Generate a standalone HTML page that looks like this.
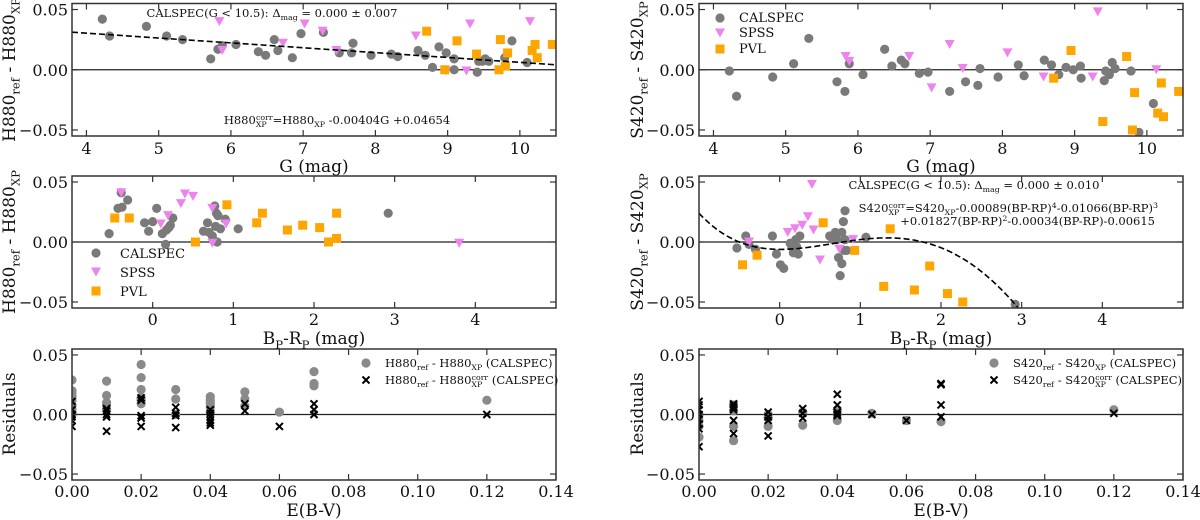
<!DOCTYPE html>
<html><head><meta charset="utf-8"><style>
html,body{margin:0;padding:0;background:#fff;}
svg{display:block;font-family:"DejaVu Serif","Liberation Serif",serif;}
</style></head><body>
<svg id="fig" width="1200" height="520" viewBox="0 0 1200 520" xmlns="http://www.w3.org/2000/svg"></svg>
<script>
// ---------- DATA ----------
const tlCalG=[4.22,4.32,4.83,5.11,5.33,5.72,5.82,5.88,6.07,6.38,6.48,6.60,6.65,6.85,6.97,7.28,7.50,7.67,7.69,7.94,8.22,8.31,8.59,8.69,8.79,8.88,8.98,9.09,9.09,9.41,9.43,9.48,9.52,9.57,9.79,9.89,10.10];
const tlCalD=[0.042,0.028,0.036,0.028,0.025,0.009,0.017,0.020,0.021,0.015,0.012,0.025,0.016,0.010,0.030,0.031,0.014,0.014,0.022,0.012,0.013,0.011,0.016,0.012,0.002,0.019,0.014,0.009,0.000,-0.002,0.007,0.007,0.009,0.007,0.010,0.024,0.006];
const tlSpsG=[5.84,5.88,6.72,7.02,7.27,7.46,8.56,8.98,9.26,9.31,10.14];
const tlSpsD=[0.040,0.016,0.022,0.038,0.032,0.016,0.028,-0.001,-0.001,0.038,0.040];
const tlPvlG=[8.71,8.96,9.13,9.40,9.71,9.73,9.80,9.83,10.17,10.21,10.24,10.45];
const tlPvlD=[0.032,0.000,0.024,0.013,0.000,0.025,0.003,0.014,0.016,0.021,0.010,0.021];
const h880Slope=-0.00404, h880Icpt=0.04654;
const mlCalC=[-0.54,-0.43,-0.38,-0.39,-0.31,-0.10,-0.05,0.00,0.05,0.12,0.16,0.17,0.20,0.22,0.25,0.63,0.68,0.70,0.74,0.77,0.78,0.79,0.80,0.81,0.84,0.90,1.06,2.92];
const mlCalD=[0.007,0.028,0.029,0.041,0.035,0.016,0.009,0.017,0.028,0.007,-0.002,0.010,0.012,0.014,0.020,0.009,0.016,0.008,0.005,0.030,0.013,0.024,0.000,0.022,0.011,0.019,0.011,0.024];
const mlSpsC=[-0.39,0.10,0.19,0.35,0.40,0.50,0.74,0.74,0.91,3.80];
const mlSpsD=[0.041,0.015,0.022,0.032,0.040,0.038,0.028,-0.001,0.015,-0.001];
const mlPvlC=[-0.47,-0.29,0.53,0.92,1.29,1.36,1.67,1.86,2.07,2.18,2.28,2.28];
const mlPvlD=[0.020,0.020,0.000,0.031,0.016,0.024,0.010,0.014,0.012,0.000,0.003,0.024];
const trCalG=[4.22,4.32,4.82,5.11,5.32,5.71,5.82,5.88,6.07,6.37,6.47,6.60,6.65,6.85,6.97,7.27,7.49,7.66,7.69,7.94,8.22,8.30,8.58,8.68,8.78,8.88,8.98,9.08,9.09,9.41,9.43,9.48,9.52,9.56,9.78,9.89,10.09];
const trCalD=[-0.001,-0.022,-0.006,0.005,0.026,-0.010,-0.018,0.005,-0.004,0.017,0.003,0.008,0.005,-0.003,-0.002,-0.018,-0.010,-0.013,0.001,-0.006,0.004,-0.005,0.008,0.004,-0.004,0.002,0.000,0.003,-0.007,-0.009,-0.001,-0.004,0.006,0.001,-0.001,-0.052,-0.028];
const trSpsG=[5.83,5.88,6.71,7.02,7.27,7.45,8.07,8.57,9.25,9.32,10.13];
const trSpsD=[0.011,0.007,0.011,-0.015,0.021,0.001,0.014,-0.006,-0.006,0.048,0.000];
const trPvlG=[8.71,8.95,9.39,9.72,9.80,9.83,10.15,10.20,10.23,10.44];
const trPvlD=[-0.007,0.016,-0.043,0.011,-0.050,-0.019,-0.036,-0.011,-0.039,-0.018];
const mrCalC=[-0.53,-0.42,-0.38,-0.30,-0.09,-0.04,0.01,0.05,0.13,0.15,0.17,0.20,0.21,0.23,0.25,0.62,0.66,0.69,0.71,0.73,0.75,0.77,0.77,0.79,0.80,0.81,0.83,0.81,1.07,2.92];
const mrCalD=[-0.005,0.005,-0.002,-0.006,0.005,-0.010,-0.019,-0.022,-0.001,-0.004,-0.009,0.002,-0.004,-0.010,0.005,0.005,0.002,0.008,0.002,-0.013,-0.028,-0.018,0.008,0.017,-0.007,0.026,-0.007,0.002,0.004,-0.052];
const mrSpsC=[-0.38,0.10,0.19,0.28,0.35,0.40,0.42,0.50,0.74,0.91];
const mrSpsD=[0.000,0.008,0.011,0.014,0.021,0.048,0.010,-0.015,-0.006,0.002];
const mrPvlC=[-0.46,-0.28,0.54,0.93,1.37,1.29,1.67,1.86,2.08,2.27];
const mrPvlD=[-0.019,-0.011,0.016,-0.007,0.011,-0.037,-0.040,-0.020,-0.043,-0.050];
const s420Coef=[0.00089,-0.01066,0.01827,-0.00034,-0.00615];
const blRawE=[0,0,0,0,0,0,0,0,0,0.01,0.01,0.01,0.01,0.01,0.02,0.02,0.02,0.02,0.02,0.02,0.03,0.03,0.03,0.04,0.04,0.04,0.04,0.04,0.04,0.05,0.05,0.05,0.06,0.07,0.07,0.07,0.12];
const blRawD=[0.029,0.020,0.018,0.015,0.012,0.008,0.004,0.002,0.000,0.028,0.016,0.010,0.008,0.004,0.042,0.031,0.021,0.014,0.012,0.009,0.021,0.013,0.000,0.015,0.012,0.010,0.008,0.006,0.002,0.019,0.013,0.007,0.002,0.036,0.026,0.024,0.012];
const blCorE=[0,0,0,0,0,0,0.01,0.01,0.01,0.01,0.01,0.02,0.02,0.02,0.02,0.02,0.03,0.03,0.03,0.03,0.04,0.04,0.04,0.04,0.04,0.04,0.05,0.05,0.06,0.07,0.07,0.07,0.12];
const blCorD=[0.011,0.004,0.000,-0.002,-0.005,-0.010,0.005,0.003,0.000,-0.002,-0.014,0.014,0.012,-0.001,-0.003,-0.010,0.006,0.001,-0.001,-0.011,0.004,0.001,-0.002,-0.005,-0.007,-0.009,0.009,0.003,-0.010,0.009,0.004,0.000,0.000];
const brRawE=[0,0,0,0,0.01,0.01,0.01,0.01,0.02,0.02,0.02,0.03,0.03,0.04,0.04,0.04,0.05,0.06,0.07,0.12];
const brRawD=[-0.019,-0.010,-0.005,0.000,0.008,0.003,-0.010,-0.022,0.000,-0.003,-0.010,0.002,-0.009,0.004,0.000,-0.005,0.001,-0.005,-0.006,0.004];
const brCorE=[0,0,0,0,0,0,0,0,0.01,0.01,0.01,0.01,0.01,0.01,0.02,0.02,0.02,0.02,0.03,0.03,0.03,0.04,0.04,0.04,0.04,0.04,0.05,0.06,0.07,0.07,0.07,0.07,0.12];
const brCorD=[0.011,0.008,0.004,0.000,-0.004,-0.008,-0.012,-0.027,0.009,0.008,0.006,0.004,-0.005,-0.016,0.002,-0.002,-0.005,-0.018,0.005,0.001,-0.003,0.017,0.008,0.002,0.000,-0.001,0.000,-0.005,0.025,0.026,0.008,-0.002,0.001];
const gTicks=[4,5,6,7,8,9,10];
const cTicks=[0,1,2,3,4];
const eTicks=[0,0.02,0.04,0.06,0.08,0.10,0.12,0.14];
const eTickLabels=["0.00","0.02","0.04","0.06","0.08","0.10","0.12","0.14"];
const yTicks=[-0.05,0,0.05];
const yTickLabels=["\u22120.05","0.00","0.05"];

// ---------- DRAW ----------
const NS="http://www.w3.org/2000/svg";
const svg=document.getElementById('fig');
function mk(tag,attrs,parent){const e=document.createElementNS(NS,tag);for(const k in attrs)e.setAttribute(k,attrs[k]);(parent||svg).appendChild(e);return e;}
let clipId=0;
function panel(name,x0,x1,y0,y1,xd,yd){
  const g=mk('g',{});
  
  
  const sx=v=>x0+(v-xd[0])/(xd[1]-xd[0])*(x1-x0);
  const sy=v=>y1-(v-yd[0])/(yd[1]-yd[0])*(y1-y0);
  clipId++;
  const cp=mk('clipPath',{id:'c'+clipId},g);
  mk('rect',{x:x0,y:y0,width:x1-x0,height:y1-y0},cp);
  const plot=mk('g',{'clip-path':'url(#c'+clipId+')'},g);
  const zl=mk('line',{x1:x0,x2:x1,y1:sy(0),y2:sy(0),stroke:'#222','stroke-width':1.3},plot);
  
  
  return {g,plot,sx,sy,x0,x1,y0,y1};
}
function frame(p,xt,xl,tickY){
  const g=p.g;
  for(let i=0;i<xt.length;i++){
    const x=p.sx(xt[i]);
    mk('line',{x1:x,x2:x,y1:p.y1,y2:p.y1-6,stroke:'#333','stroke-width':1.2},g);
    mk('line',{x1:x,x2:x,y1:p.y0,y2:p.y0+6,stroke:'#333','stroke-width':1.2},g);
    const t=mk('text',{x:x,y:tickY,'font-size':16,'text-anchor':'middle',fill:'#111'},g);
    t.textContent=xl[i];
    
    
  }
  for(let i=0;i<yTicks.length;i++){
    const y=p.sy(yTicks[i]);
    mk('line',{x1:p.x0,x2:p.x0+6,y1:y,y2:y,stroke:'#333','stroke-width':1.2},g);
    mk('line',{x1:p.x1,x2:p.x1-6,y1:y,y2:y,stroke:'#333','stroke-width':1.2},g);
    const t=mk('text',{x:p.x0-4,y:y+6,'font-size':16,'text-anchor':'end',fill:'#111'},g);
    t.textContent=yTickLabels[i];
    
    
  }
  const r=mk('rect',{x:p.x0,y:p.y0,width:p.x1-p.x0,height:p.y1-p.y0,fill:'none',stroke:'#333','stroke-width':1.5},g);
  
  
}
function circ(parent,x,y,col){const c=mk('circle',{cx:x,cy:y,r:4.6,fill:col},parent);return c;}
function tri(parent,x,y){const t=mk('path',{d:`M${x-5},${y-4.5}L${x+5},${y-4.5}L${x},${y+4.5}Z`,fill:'#ee82ee'},parent);return t;}
function sq(parent,x,y){const s=mk('rect',{x:x-4.5,y:y-4.5,width:9,height:9,fill:'#ffa500'},parent);return s;}
function cross(parent,x,y){const c=mk('path',{d:`M${x-3.5},${y-3.5}L${x+3.5},${y+3.5}M${x-3.5},${y+3.5}L${x+3.5},${y-3.5}`,stroke:'#000','stroke-width':2},parent);return c;}
function scatter3(p,cx,cy,sxa,sya,pxa,pya,order){
  const draw={c:()=>cx.forEach((v,i)=>circ(p.plot,p.sx(v),p.sy(cy[i]),'#7a7a7a')),
    s:()=>sxa.forEach((v,i)=>tri(p.plot,p.sx(v),p.sy(sya[i]))),
    p:()=>pxa.forEach((v,i)=>sq(p.plot,p.sx(v),p.sy(pya[i])))};
  order.forEach(k=>draw[k]());
}
function txt(parent,x,y,size,anchor,parts,name,rot){
  const t=mk('text',{x:x,y:y,'font-size':size,'text-anchor':anchor,fill:'#111'},parent);
  if(rot)t.setAttribute('transform',`rotate(-90 ${x} ${y})`);
  const ss=size*0.68;
  parts.forEach(pt=>{
    if(typeof pt==='string'){const s=mk('tspan',{},t);s.textContent=pt;}
    else if(pt.sub){
      const s=mk('tspan',{'font-size':ss,dy:size*0.25},t);s.textContent=pt.t;
      if(pt.sup){
        const w=pt.t.length*0.68*ss;
        const u=mk('tspan',{'font-size':ss,dx:-w,dy:-size*0.6},t);u.textContent=pt.sup;
        const back=mk('tspan',{dy:size*0.35},t);back.textContent='\u200b';
      } else {const back=mk('tspan',{dy:-size*0.25},t);back.textContent='\u200b';}
    } else {
      const s=mk('tspan',{'font-size':ss,dy:-size*0.35},t);s.textContent=pt.t;
      const back=mk('tspan',{dy:size*0.35},t);back.textContent='\u200b';
    }
  });
  
  
  return t;
}
const YD=[-0.055,0.055];
// Top-left
const p1=panel('h880-vs-g-panel',72,556,3.5,136,[3.8,10.5],YD);
scatter3(p1,tlCalG,tlCalD,tlSpsG,tlSpsD,tlPvlG,tlPvlD,['c','s','p']);
const fl=mk('line',{x1:p1.sx(3.8),x2:p1.sx(10.5),y1:p1.sy(h880Slope*3.8+h880Icpt),y2:p1.sy(h880Slope*10.5+h880Icpt),stroke:'#000','stroke-width':1.6,'stroke-dasharray':'6,3'},p1.plot);


frame(p1,gTicks,gTicks.map(String),154);
txt(p1.g,272,17,11.5,'middle',['CALSPEC(G < 10.5): \u0394',{t:'mag',sub:1},' = 0.000 \u00b1 0.007'],'calspec-stat-annotation');
txt(p1.g,337,124,11.5,'middle',['H880',{t:'XP',sub:1,sup:'corr'},'=H880',{t:'XP',sub:1},' -0.00404G +0.04654'],'h880-fit-equation');
txt(svg,p1.sx(7.15),172,17,'middle',['G (mag)'],'x-axis-title');
txt(svg,15,70,17,'middle',['H880',{t:'ref',sub:1},' - H880',{t:'XP',sub:1}],'y-axis-title',true);
// Middle-left
const p2=panel('h880-vs-color-panel',72,556,176,308,[-1,5],YD);
scatter3(p2,mlCalC,mlCalD,mlSpsC,mlSpsD,mlPvlC,mlPvlD,['c','s','p']);
frame(p2,cTicks,cTicks.map(String),325);
txt(svg,p2.sx(2),344,17,'middle',['B',{t:'P',sub:1},'-R',{t:'P',sub:1},' (mag)'],'x-axis-title');
txt(svg,15,242,17,'middle',['H880',{t:'ref',sub:1},' - H880',{t:'XP',sub:1}],'y-axis-title',true);
const lg1=mk('g',{});
circ(lg1,96,253,'#7a7a7a');tri(lg1,96,272);sq(lg1,96,291);
txt(lg1,120,258,13,'start',['CALSPEC'],'legend-calspec');
txt(lg1,120,277,13,'start',['SPSS'],'legend-spss');
txt(lg1,120,296,13,'start',['PVL'],'legend-pvl');
// Bottom-left
const p3=panel('h880-residuals-panel',72,556,349,480,[0,0.14],YD);
blRawE.forEach((v,i)=>circ(p3.plot,p3.sx(v),p3.sy(blRawD[i]),'#8a8a8a'));
blCorE.forEach((v,i)=>cross(p3.plot,p3.sx(v),p3.sy(blCorD[i])));
frame(p3,eTicks,eTickLabels,497);
txt(svg,314,516,17,'middle',['E(B-V)'],'x-axis-title');
txt(svg,15,414,17,'middle',['Residuals'],'y-axis-title',true);
circ(p3.g,366,363,'#8a8a8a');cross(p3.g,366,380);
txt(p3.g,385,367,11.5,'start',['H880',{t:'ref',sub:1},' - H880',{t:'XP',sub:1},' (CALSPEC)'],'legend-raw');
txt(p3.g,385,384,11.5,'start',['H880',{t:'ref',sub:1},' - H880',{t:'XP',sub:1,sup:'corr'},' (CALSPEC)'],'legend-corrected');
// Top-right
const p4=panel('s420-vs-g-panel',699,1183,3.5,136,[3.8,10.5],YD);
scatter3(p4,trCalG,trCalD,trSpsG,trSpsD,trPvlG,trPvlD,['c','s','p']);
frame(p4,gTicks,gTicks.map(String),154);
txt(svg,p4.sx(7.15),172,17,'middle',['G (mag)'],'x-axis-title');
txt(svg,643,70,17,'middle',['S420',{t:'ref',sub:1},' - S420',{t:'XP',sub:1}],'y-axis-title',true);
const lg2=mk('g',{});
circ(lg2,720,18,'#7a7a7a');tri(lg2,720,33);sq(lg2,720,49);
txt(lg2,739,22,13,'start',['CALSPEC'],'legend-calspec');
txt(lg2,739,37,13,'start',['SPSS'],'legend-spss');
txt(lg2,739,53,13,'start',['PVL'],'legend-pvl');
// Middle-right
const p5=panel('s420-vs-color-panel',699,1183,176,308,[-1,5],YD);
scatter3(p5,mrCalC,mrCalD,mrSpsC,mrSpsD,mrPvlC,mrPvlD,['c','s','p']);
let dpath='';
for(let k=0;k<=200;k++){const x=-1+k*0.02;const y=s420Coef.reduce((a,c)=>a*x+c,0);if(y<-0.06)break;dpath+=(k?'L':'M')+p5.sx(x).toFixed(1)+','+p5.sy(y).toFixed(1);}
const cv=mk('path',{d:dpath,fill:'none',stroke:'#000','stroke-width':1.6,'stroke-dasharray':'6,3'},p5.plot);


frame(p5,cTicks,cTicks.map(String),325);
txt(p5.g,974,189,11.5,'middle',['CALSPEC(G < 10.5): \u0394',{t:'mag',sub:1},' = 0.000 \u00b1 0.010'],'calspec-stat-annotation');
txt(p5.g,1158,212,11.5,'end',['S420',{t:'XP',sub:1,sup:'corr'},'=S420',{t:'XP',sub:1},'-0.00089(BP-RP)',{t:'4'},'-0.01066(BP-RP)',{t:'3'}],'s420-fit-equation');
txt(p5.g,1155,225,11.5,'end',['+0.01827(BP-RP)',{t:'2'},'-0.00034(BP-RP)-0.00615'],'s420-fit-equation-line2');
txt(svg,p5.sx(2),344,17,'middle',['B',{t:'P',sub:1},'-R',{t:'P',sub:1},' (mag)'],'x-axis-title');
txt(svg,643,242,17,'middle',['S420',{t:'ref',sub:1},' - S420',{t:'XP',sub:1}],'y-axis-title',true);
// Bottom-right
const p6=panel('s420-residuals-panel',699,1183,349,480,[0,0.14],YD);
brRawE.forEach((v,i)=>circ(p6.plot,p6.sx(v),p6.sy(brRawD[i]),'#8a8a8a'));
brCorE.forEach((v,i)=>cross(p6.plot,p6.sx(v),p6.sy(brCorD[i])));
frame(p6,eTicks,eTickLabels,497);
txt(svg,941,516,17,'middle',['E(B-V)'],'x-axis-title');
txt(svg,643,414,17,'middle',['Residuals'],'y-axis-title',true);
circ(p6.g,994,363,'#8a8a8a');cross(p6.g,994,380);
txt(p6.g,1013,367,11.5,'start',['S420',{t:'ref',sub:1},' - S420',{t:'XP',sub:1},' (CALSPEC)'],'legend-raw');
txt(p6.g,1013,384,11.5,'start',['S420',{t:'ref',sub:1},' - S420',{t:'XP',sub:1,sup:'corr'},' (CALSPEC)'],'legend-corrected');
</script>
</body></html>
